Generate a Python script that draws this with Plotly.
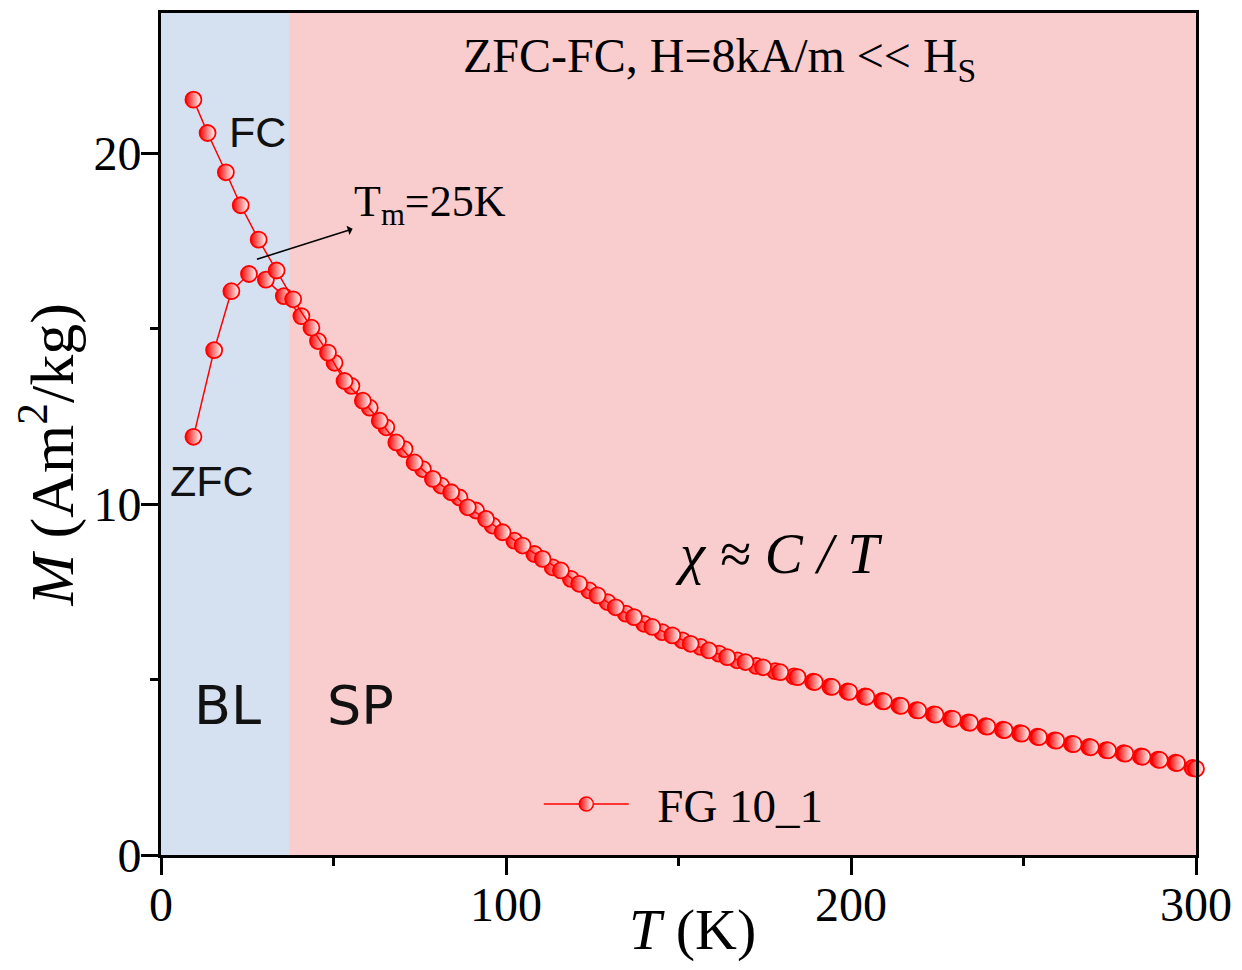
import plotly.graph_objects as go

# ---- data ----
T_zfc = [9.4, 15.4, 20.4, 25.5, 30.4, 35.6, 40.7, 45.5, 50.3, 55.2, 60.5, 65.3, 70.6,
         75.9, 81.2, 86.5, 91.3, 96.1, 102.4, 108.2, 113.5, 118.8, 124.1, 129.4, 134.7,
         140.0, 145.3, 151.1, 156.4, 161.7, 167.0, 172.5, 178.0, 183.5, 189.0, 194.0,
         199.0, 204.0, 209.0, 214.0, 219.0, 224.0, 229.0, 234.0, 239.0, 244.0, 249.0,
         254.0, 259.0, 264.0, 269.0, 274.0, 279.0, 284.0, 289.0, 294.0, 299.0]
M_zfc = [11.92, 14.39, 16.07, 16.56, 16.40, 15.93, 15.36, 14.65, 14.03, 13.37, 12.75, 12.19, 11.57,
         11.00, 10.53, 10.19, 9.82, 9.39, 8.96, 8.58, 8.20, 7.87, 7.54, 7.21, 6.88,
         6.59, 6.35, 6.12, 5.93, 5.74, 5.55, 5.39, 5.24, 5.09, 4.94, 4.80,
         4.66, 4.52, 4.39, 4.26, 4.13, 4.01, 3.89, 3.78, 3.67, 3.57, 3.47,
         3.37, 3.27, 3.17, 3.08, 2.99, 2.90, 2.81, 2.72, 2.63, 2.48]

T_fc = [9.4, 13.5, 18.8, 23.1, 28.3, 33.5, 38.3, 43.6, 48.4, 53.2, 58.5, 63.4, 68.2, 73.5,
        78.8, 84.1, 88.9, 94.2, 99.0, 104.8, 110.6, 115.9, 121.2, 126.5, 131.8, 137.1,
        142.4, 148.2, 153.5, 158.8, 164.1, 169.4, 174.5, 179.5, 184.5, 189.5, 194.5,
        199.5, 204.5, 209.5, 214.5, 219.5, 224.5, 229.5, 234.5, 239.5, 244.5, 249.5,
        254.5, 259.5, 264.5, 269.5, 274.5, 279.5, 284.5, 289.5, 294.5, 300.0]
M_fc = [21.53, 20.58, 19.46, 18.52, 17.54, 16.66, 15.84, 15.03, 14.32, 13.51, 12.95, 12.38, 11.76, 11.19,
        10.72, 10.34, 9.91, 9.58, 9.20, 8.82, 8.44, 8.11, 7.73, 7.40, 7.06, 6.78,
        6.50, 6.26, 6.02, 5.83, 5.64, 5.50, 5.35, 5.21, 5.07, 4.93, 4.79,
        4.65, 4.51, 4.38, 4.25, 4.12, 4.00, 3.88, 3.77, 3.66, 3.56, 3.46,
        3.36, 3.26, 3.16, 3.07, 2.98, 2.89, 2.80, 2.71, 2.62, 2.46]

x_ticks = [0, 100, 200, 300]
y_ticks = [0, 10, 20]
T_boundary = 37.3   # BL / SP boundary
series_name = "FG 10_1"

RED = "#ff0000"
SERIF = "Liberation Serif"

half_marker = dict(symbol="circle", size=16, color=RED,
                   gradient=dict(type="horizontal", color="white"),
                   line=dict(color=RED, width=1.8))

fig = go.Figure()

for T, M in ((T_zfc, M_zfc), (T_fc, M_fc)):
    fig.add_trace(go.Scatter(
        x=T, y=M, mode="lines+markers",
        line=dict(color=RED, width=1.5),
        marker=half_marker,
        showlegend=False, hoverinfo="skip", cliponaxis=False))

# legend entry
fig.add_trace(go.Scatter(
    x=[None], y=[None], mode="lines+markers", name="\u00a0\u00a0" + series_name,
    line=dict(color=RED, width=1.5),
    marker=dict(symbol="circle", size=14, color=RED,
                gradient=dict(type="horizontal", color="white"),
                line=dict(color=RED, width=1.5))))

fig.add_shape(type="rect", xref="x", yref="paper", x0=0, x1=T_boundary, y0=0, y1=1,
              fillcolor="#d5e1f1", line=dict(width=0), layer="below")
fig.add_shape(type="rect", xref="x", yref="paper", x0=T_boundary, x1=300, y0=0, y1=1,
              fillcolor="#f9cdcd", line=dict(width=0), layer="below")

ann = []
ann.append(dict(x=162, y=22.7, xref="x", yref="y", showarrow=False,
                text="ZFC-FC, H=8kA/m << H<sub>S</sub>",
                font=dict(family=SERIF, size=48, color="black")))
ann.append(dict(x=28.1, y=20.6, xref="x", yref="y", showarrow=False, text="FC",
                xanchor="center", font=dict(family="Liberation Sans", size=43, color="#111")))
ann.append(dict(x=14.8, y=10.67, xref="x", yref="y", showarrow=False, text="ZFC",
                font=dict(family="Liberation Sans", size=43, color="#111")))
ann.append(dict(x=19.4, y=4.27, xref="x", yref="y", showarrow=False, text="BL",
                font=dict(family="DejaVu Sans", size=54, color="#111")))
ann.append(dict(x=57.9, y=4.27, xref="x", yref="y", showarrow=False, text="SP",
                font=dict(family="DejaVu Sans", size=54, color="#111")))
ann.append(dict(x=179, y=8.6, xref="x", yref="y", showarrow=False,
                text="<i>\u03C7 \u2248 C / T</i>",
                font=dict(family=SERIF, size=57, color="black")))
# T_m label with arrow pointing toward it
ann.append(dict(x=27.8, y=16.98, ax=78.0, ay=18.55, xref="x", yref="y",
                axref="x", ayref="y", text="T<sub>m</sub>=25K", showarrow=True,
                arrowside="start", arrowhead=2, arrowsize=1.5, arrowwidth=1.6,
                arrowcolor="black", standoff=0, startstandoff=0,
                font=dict(family=SERIF, size=44, color="black")))
# axis titles
ann.append(dict(x=-0.11, y=0.4746, xref="paper", yref="paper", showarrow=False,
                xanchor="center", yanchor="middle",
                text="<i>M</i> (Am<sup>2</sup>/kg)", textangle=-90,
                font=dict(family=SERIF, size=62, color="black")))
ann.append(dict(x=0.514, y=-0.088, xref="paper", yref="paper", showarrow=False,
                xanchor="center", yanchor="middle",
                text="<i>T</i> (K)",
                font=dict(family=SERIF, size=58, color="black")))

fig.update_layout(
    width=1242, height=970,
    margin=dict(l=161, r=44, t=10, b=115),
    paper_bgcolor="white", plot_bgcolor="#f9cdcd",
    annotations=ann,
    legend=dict(x=0.365, y=0.060, xanchor="left", yanchor="middle",
                bgcolor="rgba(0,0,0,0)", itemwidth=85,
                font=dict(family=SERIF, size=47, color="black")),
    xaxis=dict(range=[0, 300], tickvals=x_ticks, ticks="outside", ticklen=17, tickwidth=3,
               tickcolor="black", showline=True, linewidth=3, linecolor="black", mirror=True,
               showgrid=False, zeroline=False, ticklabelstandoff=-12,
               minor=dict(dtick=50, ticks="outside", ticklen=8, tickwidth=3, tickcolor="black"),
               tickfont=dict(family=SERIF, size=48, color="black")),
    yaxis=dict(range=[0, 24], tickvals=y_ticks, ticks="outside", ticklen=17, tickwidth=3,
               tickcolor="black", showline=True, linewidth=3, linecolor="black", mirror=True,
               showgrid=False, zeroline=False, ticklabelstandoff=-10,
               minor=dict(dtick=5, ticks="outside", ticklen=8, tickwidth=3, tickcolor="black"),
               tickfont=dict(family=SERIF, size=48, color="black")),
)

fig.write_html("out.html")
